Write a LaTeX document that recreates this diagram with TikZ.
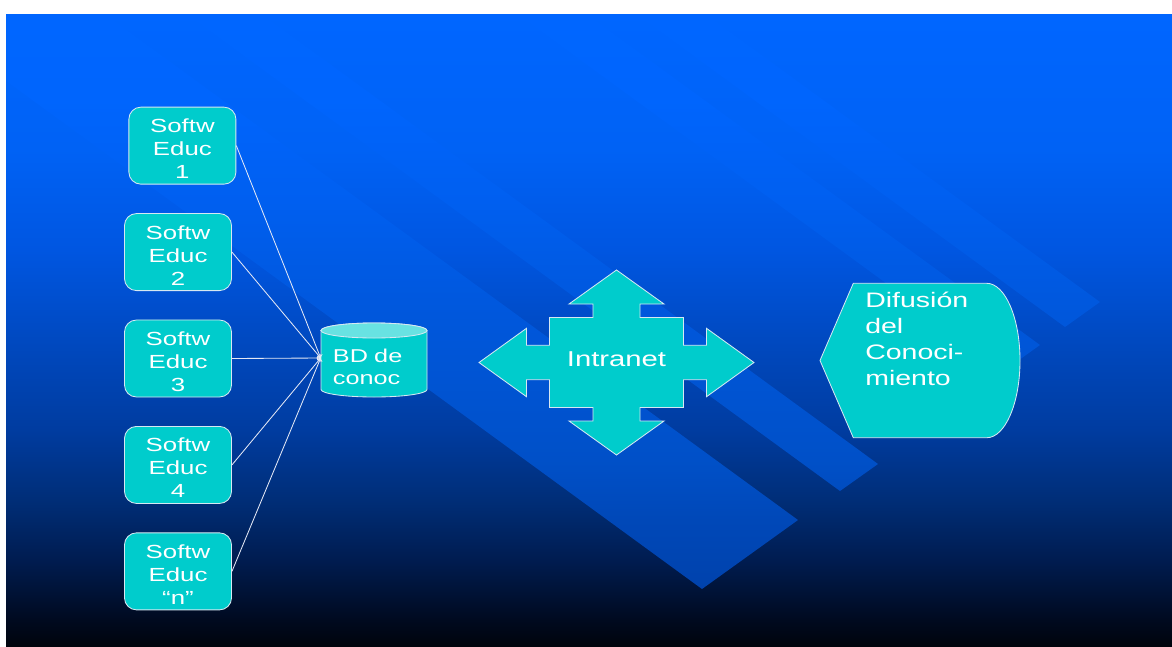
\documentclass[tikz,border=0pt]{standalone}
\usepackage{fontspec}
\setmainfont{Liberation Sans}[FakeStretch=1.36]
\usetikzlibrary{positioning,calc}

\definecolor{nodecyan}{RGB}{0,204,204}
\definecolor{lidcyan}{RGB}{104,226,226}
\definecolor{edgeclr}{RGB}{214,232,242}
\definecolor{wireclr}{RGB}{228,232,245}

\pgfdeclareverticalshading{slidebg}{100bp}{rgb(0bp)=(0,0.016,0.047); rgb(25bp)=(0,0.016,0.047); rgb(27.1bp)=(0,0.039,0.125); rgb(31.8bp)=(0,0.11,0.314); rgb(36.6bp)=(0,0.18,0.47); rgb(42.1bp)=(0,0.235,0.627); rgb(47.6bp)=(0,0.275,0.725); rgb(56.3bp)=(0,0.337,0.882); rgb(64.2bp)=(0,0.384,0.96); rgb(75bp)=(0,0.4,1); rgb(100bp)=(0,0.4,1)}
\pgfdeclareverticalshading{stripebg}{100bp}{rgb(0bp)=(0,0.227,0.612); rgb(25bp)=(0,0.227,0.612); rgb(29.4bp)=(0,0.259,0.675); rgb(35bp)=(0,0.282,0.722); rgb(39.7bp)=(0,0.314,0.784); rgb(52.4bp)=(0,0.345,0.871); rgb(60.2bp)=(0,0.373,0.941); rgb(68.2bp)=(0,0.396,0.992); rgb(75bp)=(0,0.4,1); rgb(100bp)=(0,0.4,1)}

\tikzset{
  softbox/.style={draw=edgeclr, line width=0.6pt, fill=nodecyan, rounded corners=0.3cm,
    minimum width=2.675cm, minimum height=1.925cm, inner sep=0pt, align=center,
    text=white, font=\fontsize{13.5}{16.4}\selectfont},
  shapeline/.style={draw=edgeclr, line width=0.6pt, fill=nodecyan},
  wire/.style={->, draw=wireclr, line width=0.6pt},
  plaintext/.style={inner sep=0pt, text=white}
}
% taller first line, pushes the box text a little down
\newcommand{\boxlift}{\rule{0pt}{14.2pt}}

\begin{document}
\begin{tikzpicture}[x=0.025cm, y=-0.025cm, node distance=2.66cm]
    \useasboundingbox (0,0) rectangle (1172,646);
    \fill[white] (0,0) rectangle (1172,646);

    % slide background and diagonal bands
    \shade[shading=slidebg] (6,14) rectangle (1172,646);
    \begin{scope}
        \clip (798,520) -- (702,589) -- (-298,-141) -- (-202,-210) -- cycle
              (878,464) -- (840,491) -- (-160,-239) -- (-122,-266) -- cycle
              (1100,302) -- (1065,327) -- (65,-403) -- (100,-428) -- cycle
              (1040,345) -- (1005,370) -- (5,-360) -- (40,-385) -- cycle;
        \shade[shading=stripebg] (6,14) rectangle (1172,646);
    \end{scope}

    % software boxes
    \node (s3) [softbox] at (178,358.5) {\boxlift Softw\\Educ\\3};
    \node (s2) [softbox, above of=s3] {\boxlift Softw\\Educ\\2};
    \node (s1) [softbox, above of=s2, xshift=0.11cm] {\boxlift Softw\\Educ\\1};
    \node (s4) [softbox, below of=s3] {\boxlift Softw\\Educ\\4};
    \node (s5) [softbox, below of=s4] {\boxlift Softw\\Educ\\“n”};

    % knowledge base
    \draw[shapeline] (321,330.5) -- (321,389.5) arc (180:360:1.325cm and 0.1875cm)
        -- (427,330.5) arc (0:180:1.325cm and 0.1875cm) -- cycle;
    \draw[shapeline, fill=lidcyan] (374,330.5) ellipse (1.325cm and 0.1875cm);
    \node (bd) [plaintext, inner xsep=0.3cm, text width=2.05cm, align=left, font=\fontsize{13.2}{15.6}\selectfont] at (374,367) {BD de\\conoc};

    % intranet
    \begin{scope}[shift={(616.5,362.5)}]
        \draw[shapeline] (0,-92.5) -- (47.5,-58.5) -- (23.5,-58.5) -- (23.5,-45) -- (67,-45)
            -- (67,-17.2) -- (90,-17.2) -- (90,-34.2) -- (137.5,0) -- (90,34.2) -- (90,17.2)
            -- (67,17.2) -- (67,45) -- (23.5,45) -- (23.5,58.5) -- (47.5,58.5) -- (0,92.5)
            -- (-47.5,58.5) -- (-23.5,58.5) -- (-23.5,45) -- (-67,45) -- (-67,17.2)
            -- (-90,17.2) -- (-90,34.2) -- (-137.5,0) -- (-90,-34.2) -- (-90,-17.2)
            -- (-67,-17.2) -- (-67,-45) -- (-23.5,-45) -- (-23.5,-58.5) -- (-47.5,-58.5) -- cycle;
    \end{scope}
    \node (intranet) [plaintext, font=\fontsize{15.3}{18}\selectfont] at (616.5,359.5) {Intranet};

    % diffusion
    \draw[shapeline] (820,360.5) -- (853.3,283.3) -- (986.7,283.3)
        arc (90:-90:0.8325cm and 1.93cm) -- (853.3,437.7) -- cycle;
    \node (dif) [plaintext, anchor=north west, align=left, font=\fontsize{14.9}{18.5}\selectfont] at (865,291.5) {Difusión\\del\\Conoci-\\miento};

    \draw [wire] (s1.east) -- ([yshift=0.225cm]bd.west);
    \draw [wire] (s2.east) -- ([yshift=0.225cm]bd.west);
    \draw [wire] (s3.east) -- ([yshift=0.225cm]bd.west);
    \draw [wire] (s4.east) -- ([yshift=0.225cm]bd.west);
    \draw [wire] (s5.east) -- ([yshift=0.225cm]bd.west);
\end{tikzpicture}
\end{document}
